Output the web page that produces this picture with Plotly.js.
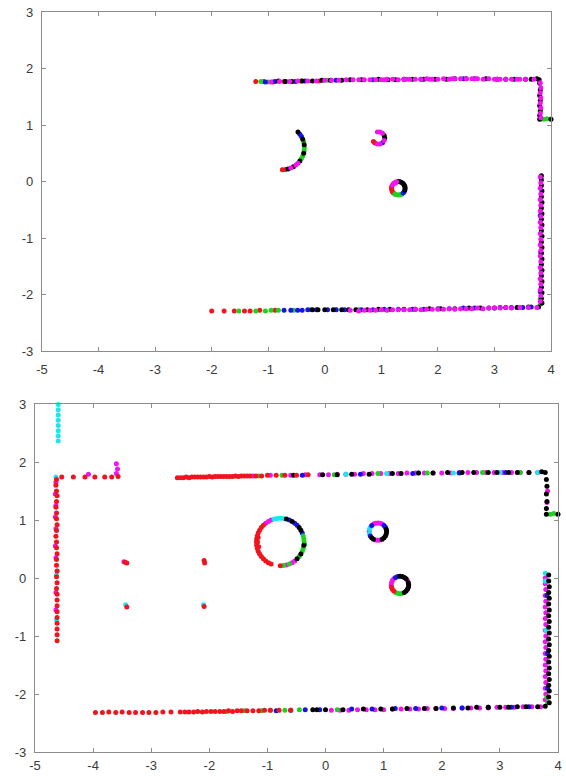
<!DOCTYPE html>
<html><head><meta charset="utf-8">
<script src="https://cdn.plot.ly/plotly-3.0.1.min.js"></script>
<style>html,body{margin:0;padding:0;background:#fff}#chart{width:566px;height:776px}</style>
</head><body><div id="chart"></div>
<script>
const xTickVals = [-5,-4,-3,-2,-1,0,1,2,3,4];
const xTickText = ['-5','-4','-3','-2','-1','0','1','2','3','4'];
const yTickVals = [-3,-2,-1,0,1,2,3];
const yTickText = ['-3','-2','-1','0','1','2','3'];

// ---- top panel scan points [x, y] ----
const topRed = [
 [-1.22,1.77],[-1.08,1.77],[-0.92,1.76],[-0.72,1.77],[-0.42,1.78],[-0.1,1.78],
 [-2.0,-2.29],[-1.78,-2.29],[-1.6,-2.29],[-1.42,-2.29],[-1.32,-2.29],[-1.15,-2.28],[-0.88,-2.28],
 [-0.75,0.21],[-0.699,0.213],
 [0.887,0.68],[0.86,0.707],
 [1.184,-0.089],[1.18,-0.12],[1.184,-0.151],[1.196,-0.18],[1.215,-0.205]
];
const topGreen = [
 [-1.13,1.77],[-1.0,1.76],[-0.68,1.77],[0.05,1.79],
 [3.87,1.1],[3.93,1.11],[3.82,-2.17],[3.81,-2.08],
 [-1.52,-2.29],[-1.22,-2.29],[-1.05,-2.29],[-0.95,-2.28],[-0.82,-2.28],[-0.55,-2.28],[-0.25,-2.27],[0.2,-2.27],[0.6,-2.27],
 [-0.373,0.701],[-0.36,0.60],[-0.364,0.549],[-0.39,0.451],[-0.412,0.405],
 [1.24,-0.224],[1.269,-0.236],[1.30,-0.24],[1.331,-0.236],[1.36,-0.224]
];
const topBlue = [
 [-1.05,1.76],[-0.88,1.77],[-0.52,1.77],[-0.35,1.78],[0.2,1.79],[0.85,1.8],[1.7,1.81],[2.45,1.82],
 [-0.72,-2.28],[-0.6,-2.28],[-0.48,-2.28],[-0.3,-2.27],[0.05,-2.27],[0.35,-2.27],[0.85,-2.27],[1.3,-2.26],[1.75,-2.26],[2.2,-2.25],[2.65,-2.24],[3.1,-2.23],[3.5,-2.23],
 [-0.4,-2.28],[-0.15,-2.27],[0.2,-2.27],[0.65,-2.27],[1.05,-2.26],[1.55,-2.26],[2.0,-2.25],[2.45,-2.24],[2.9,-2.24],[3.3,-2.23],[3.65,-2.22],
 [3.81,-0.6],[3.82,-1.25],[3.81,-1.95],
 [-0.441,0.837],[-0.412,0.795],
 [1.021,0.686],
 [1.404,-0.18],[1.385,-0.205]
];
const topMagenta = [
 [-0.95,1.76],[-0.8,1.77],[-0.62,1.77],[-0.48,1.78],[-0.3,1.78],[-0.15,1.78],[0.0,1.79],[0.12,1.79],[0.25,1.79],[0.38,1.8],[0.5,1.8],[0.6,1.8],[0.7,1.8],[0.8,1.8],[0.9,1.8],[1.0,1.8],[1.1,1.81],[1.2,1.81],[1.3,1.8],[1.4,1.81],[1.5,1.81],[1.6,1.81],[1.7,1.81],[1.8,1.82],[1.9,1.81],[2.0,1.81],[2.1,1.82],[2.2,1.81],[2.3,1.82],[2.4,1.82],[2.5,1.82],[2.6,1.82],[2.7,1.82],[2.8,1.81],[2.9,1.82],[3.0,1.81],[3.1,1.81],[3.2,1.81],[3.3,1.81],[3.4,1.81],[3.55,1.81],[3.7,1.81],
 [1.05,1.8],[1.45,1.81],[1.85,1.81],[2.25,1.82],[2.65,1.82],[3.05,1.81],[3.45,1.81],
 [3.81,1.75],[3.82,1.66],[3.81,1.57],[3.82,1.48],[3.81,1.39],[3.82,1.3],[3.81,1.21],[3.82,1.13],
 [3.81,0.08],[3.82,-0.02],[3.81,-0.12],[3.82,-0.22],[3.81,-0.32],[3.82,-0.42],[3.81,-0.52],[3.82,-0.62],[3.81,-0.72],[3.82,-0.82],[3.81,-0.92],[3.82,-1.02],[3.81,-1.12],[3.82,-1.22],[3.81,-1.32],[3.82,-1.42],[3.81,-1.52],[3.82,-1.62],[3.81,-1.72],[3.82,-1.82],[3.81,-1.92],[3.82,-2.02],[3.81,-2.12],
 [0.45,-2.28],[0.6,-2.29],[0.7,-2.28],[0.8,-2.28],[0.9,-2.28],[1.0,-2.27],[1.1,-2.28],[1.2,-2.27],[1.3,-2.27],[1.4,-2.27],[1.5,-2.27],[1.6,-2.26],[1.7,-2.27],[1.8,-2.26],[1.9,-2.26],[2.0,-2.26],[2.1,-2.26],[2.2,-2.25],[2.3,-2.26],[2.4,-2.25],[2.5,-2.25],[2.6,-2.25],[2.7,-2.24],[2.8,-2.25],[2.9,-2.24],[3.0,-2.24],[3.1,-2.24],[3.2,-2.23],[3.3,-2.24],[3.45,-2.23],[3.6,-2.23],[3.75,-2.23],
 [-0.474,0.324],[-0.513,0.291],[-0.601,0.24],
 [0.931,0.878],[0.978,0.876],[1.021,0.854],[1.05,0.724],[0.978,0.664],[0.931,0.662],
 [1.269,-0.004],[1.24,-0.016],[1.215,-0.035],[1.196,-0.06],[1.25,-0.03]
];
const topBlack = [
 [-0.82,1.78],[-0.7,1.77],[-0.58,1.77],[-0.4,1.78],[-0.22,1.78],[-0.05,1.79],[0.1,1.79],[0.3,1.79],[0.45,1.8],[0.65,1.8],[0.95,1.81],[1.25,1.8],[1.55,1.81],[1.95,1.81],[2.3,1.82],[2.65,1.82],[3.05,1.81],[3.35,1.81],[3.55,1.81],[3.75,1.82],
 [1.12,1.8],[1.4,1.81],[1.75,1.81],[2.15,1.81],[2.5,1.82],[2.85,1.82],[3.2,1.81],[3.65,1.81],
 [3.79,1.8],[3.8,1.74],[3.81,1.62],[3.8,1.52],[3.81,1.43],[3.8,1.34],[3.81,1.25],[3.8,1.17],[3.8,1.1],[4.0,1.1],
 [3.83,0.1],[3.83,0.03],[3.83,-0.07],[3.84,-0.17],[3.83,-0.27],[3.84,-0.37],[3.83,-0.47],[3.84,-0.57],[3.83,-0.67],[3.84,-0.77],[3.83,-0.87],[3.84,-0.97],[3.83,-1.07],[3.84,-1.17],[3.83,-1.27],[3.84,-1.37],[3.83,-1.47],[3.84,-1.57],[3.83,-1.67],[3.84,-1.77],[3.83,-1.87],[3.84,-1.97],[3.83,-2.07],[3.84,-2.15],
 [-0.22,-2.27],[-0.12,-2.27],[0.0,-2.27],[0.15,-2.27],[0.3,-2.27],[0.42,-2.27],[0.55,-2.27],[0.75,-2.27],[0.95,-2.26],[1.15,-2.26],[1.4,-2.26],[1.6,-2.26],[1.85,-2.25],[2.05,-2.25],[2.3,-2.25],[2.55,-2.24],[2.75,-2.24],[3.0,-2.24],[3.2,-2.23],[3.4,-2.23],[3.6,-2.22],[3.78,-2.22],
 [-0.474,0.876],[-0.39,0.749],[-0.364,0.651],[-0.373,0.499],[-0.441,0.363],[-0.555,0.262],[-0.649,0.223],
 [1.05,0.816],[1.06,0.77],
 [1.42,-0.12],[1.416,-0.089],[1.404,-0.06],[1.385,-0.035],[1.36,-0.016],[1.331,-0.004],[1.30,0.0],[1.416,-0.151]
];

// ---- bottom panel scan points [x, y] ----
const botMagenta = [
 [-4.64,1.65],[-4.65,1.45],[-4.64,1.25],[-4.65,1.05],[-4.64,0.85],[-4.65,0.55],[-4.64,0.35],[-4.64,-0.25],[-4.64,-0.55],
 [-3.6,1.97],[-3.58,1.88],[-3.6,1.8],[-4.08,1.79],
 [-1.25,1.76],[-0.95,1.77],[-0.6,1.77],[-0.35,1.78],
 [-0.1,1.78],[0.05,1.78],[0.2,1.79],[0.35,1.79],[0.5,1.79],[0.65,1.8],[0.8,1.8],[0.95,1.8],[1.1,1.8],[1.25,1.8],[1.4,1.81],[1.55,1.81],[1.7,1.81],[1.85,1.81],[2.0,1.81],[2.15,1.81],[2.3,1.82],[2.45,1.82],[2.6,1.82],[2.75,1.82],[2.9,1.82],[3.05,1.82],[3.2,1.82],[3.35,1.82],[3.5,1.82],[3.65,1.82],
 [3.82,1.5],[3.81,1.3],
 [3.78,0.0],[3.78,-0.1],[3.79,-0.2],[3.78,-0.3],[3.79,-0.4],[3.78,-0.5],[3.79,-0.6],[3.78,-0.7],[3.79,-0.8],[3.78,-0.9],[3.79,-1.0],[3.78,-1.1],[3.79,-1.2],[3.78,-1.3],[3.79,-1.4],[3.78,-1.5],[3.79,-1.6],[3.78,-1.7],[3.79,-1.8],[3.78,-1.9],[3.79,-2.0],[3.78,-2.1],
 [0.1,-2.28],[0.25,-2.28],[0.4,-2.28],[0.55,-2.27],[0.7,-2.27],[0.85,-2.27],[1.0,-2.27],[1.15,-2.26],[1.3,-2.26],[1.45,-2.26],[1.6,-2.26],[1.75,-2.25],[1.9,-2.25],[2.05,-2.25],[2.2,-2.25],[2.35,-2.24],[2.5,-2.24],[2.65,-2.24],[2.8,-2.24],[2.95,-2.23],[3.1,-2.23],[3.25,-2.23],[3.4,-2.22],[3.55,-2.22],[3.7,-2.22],
 [-3.47,0.28],
 [-0.937,0.999],[-0.985,0.975],[-1.03,0.945],[-0.674,0.224],[-0.575,0.265],[-0.53,0.295],
 [0.975,0.93],[0.939,0.945],[0.90,0.95],[0.861,0.945],[0.825,0.93],[0.75,0.80],[0.861,0.655],[0.90,0.65],[0.939,0.655],
 [1.41,-0.045],[1.174,-0.014],[1.15,-0.045],[1.135,-0.081],[1.13,-0.12]
];
const botCyan = [
 [-4.6,2.36],[-4.6,2.45],[-4.6,2.54],[-4.6,2.63],[-4.6,2.72],[-4.6,2.81],[-4.6,2.9],[-4.6,2.99],
 [-4.64,1.74],[-4.62,0.12],[-4.63,0.05],[-4.63,-0.72],
 [-3.44,-0.46],[-2.1,-0.46],
 [0.35,1.79],[1.05,1.8],[1.6,1.81],[2.2,1.81],[3.0,1.82],[3.65,1.82],
 [-0.726,1.026],[-0.78,1.03],[-0.834,1.026],[-0.886,1.016],
 [0.77,0.875],[0.755,0.839],[0.755,0.761],
 [3.78,0.08],[3.78,-0.05],[3.79,-0.9]
];
const botBlue = [
 [-0.4,1.77],[0.6,1.79],[1.5,1.8],[2.3,1.81],[3.1,1.82],
 [3.81,-0.3],[3.82,-1.3],[3.82,-1.9],
 [-0.85,-2.29],[-0.6,-2.28],[-0.35,-2.27],[0.45,-2.26],[1.2,-2.25],[2.0,-2.24],[2.8,-2.23],[3.5,-2.22],
 [-0.1,-2.27],[0.8,-2.26],[1.55,-2.25],[2.35,-2.24],[3.2,-2.23],
 [-0.401,0.777],[-0.49,0.91],[-0.53,0.945],[-0.623,0.999],
 [1.03,0.875],[1.006,0.906],[0.794,0.906],[0.77,0.725],
 [1.241,0.025],[1.205,0.01]
];
const botGreen = [
 [-1.15,1.76],[-0.75,1.77],[0.15,1.78],[0.9,1.8],[1.75,1.81],[2.7,1.82],[3.35,1.82],
 [3.87,1.1],[3.93,1.11],[3.82,-2.15],[3.81,-2.05],
 [-1.7,-2.3],[-1.4,-2.29],[-1.1,-2.29],[-0.95,-2.28],[-0.7,-2.28],[-0.45,-2.27],[0.2,-2.27],
 [-0.37,0.62],[-0.374,0.674],[-0.384,0.726],[-0.401,0.463],[-0.384,0.514],[-0.455,0.37],[-0.623,0.241],[-0.726,0.214],[-0.36,0.58],
 [1.205,-0.25],[1.241,-0.265],[1.28,-0.27],[1.319,-0.265]
];
const botBlack = [
 [-0.55,1.77],[-0.05,1.78],[0.45,1.79],[1.15,1.8],[1.85,1.81],[2.1,1.82],[2.55,1.82],[2.95,1.82],[3.3,1.82],[3.72,1.83],
 [0.2,1.78],[0.75,1.79],[1.3,1.8],[1.6,1.81],[2.35,1.82],[2.8,1.82],[3.15,1.82],[3.5,1.82],
 [3.78,1.82],[3.8,1.7],[3.81,1.58],[3.8,1.45],[3.81,1.32],[3.8,1.2],[3.8,1.1],[4.0,1.1],
 [3.84,0.05],[3.84,-0.05],[3.85,-0.15],[3.84,-0.25],[3.85,-0.35],[3.84,-0.45],[3.85,-0.55],[3.84,-0.65],[3.85,-0.75],[3.84,-0.85],[3.85,-0.95],[3.84,-1.05],[3.85,-1.15],[3.84,-1.25],[3.85,-1.35],[3.84,-1.45],[3.85,-1.55],[3.84,-1.65],[3.85,-1.75],[3.84,-1.85],[3.85,-1.95],[3.84,-2.05],[3.85,-2.15],
 [-0.22,-2.27],[-0.15,-2.27],[0.0,-2.27],[0.65,-2.26],[1.4,-2.25],[2.2,-2.24],[2.6,-2.23],[3.0,-2.23],[3.3,-2.22],[3.65,-2.22],[3.78,-2.21],
 [0.3,-2.27],[0.95,-2.26],[1.15,-2.26],[1.7,-2.25],[1.9,-2.25],[2.45,-2.24],[2.8,-2.23],[3.15,-2.23],[3.45,-2.22],
 [-0.425,0.825],[-0.455,0.87],[-0.575,0.975],[-0.674,1.016],[-0.49,0.33],[-0.425,0.415],[-0.374,0.566],
 [1.05,0.80],[1.045,0.839],[1.045,0.761],[1.03,0.725],[0.794,0.694],[0.825,0.67],[0.975,0.67],[1.006,0.694],
 [1.43,-0.12],[1.425,-0.081],[1.386,-0.014],[1.355,0.01],[1.319,0.025],[1.28,0.03],[1.355,-0.25],[1.386,-0.226],[1.41,-0.195],[1.425,-0.159]
];
const botRed = [
 [-4.63,1.7],[-4.64,1.6],[-4.63,1.5],[-4.62,1.42],[-4.63,1.32],[-4.64,1.22],[-4.63,1.12],[-4.63,1.02],[-4.62,0.92],[-4.63,0.82],[-4.64,0.72],[-4.63,0.62],[-4.63,0.52],[-4.62,0.42],[-4.63,0.32],[-4.63,0.22],[-4.62,0.12],[-4.63,0.02],[-4.62,-0.08],[-4.63,-0.18],[-4.62,-0.28],[-4.62,-0.38],[-4.62,-0.48],[-4.62,-0.58],[-4.62,-0.68],[-4.62,-0.78],[-4.62,-0.88],[-4.62,-0.98],[-4.62,-1.08],
 [-4.54,1.74],[-4.34,1.74],[-4.14,1.74],[-3.97,1.74],[-3.8,1.74],[-3.68,1.74],[-3.57,1.75],
 [-2.55,1.73],[-2.5,1.73],[-2.45,1.73],[-2.4,1.74],[-2.35,1.73],[-2.3,1.74],[-2.25,1.74],[-2.2,1.74],[-2.15,1.74],[-2.1,1.74],[-2.05,1.74],[-2.0,1.75],[-1.95,1.74],[-1.9,1.75],[-1.85,1.75],[-1.8,1.75],[-1.75,1.75],[-1.7,1.75],[-1.65,1.75],[-1.6,1.75],[-1.55,1.76],[-1.5,1.75],[-1.45,1.76],[-1.4,1.76],[-1.35,1.76],[-1.3,1.76],[-1.2,1.76],[-1.1,1.76],[-1.0,1.77],[-0.85,1.77],[-0.7,1.77],[-0.5,1.77],[-0.3,1.78],
 [-3.96,-2.32],[-3.84,-2.32],[-3.73,-2.31],[-3.61,-2.32],[-3.5,-2.31],[-3.38,-2.32],[-3.27,-2.32],[-3.15,-2.32],[-3.04,-2.32],[-2.92,-2.32],[-2.8,-2.31],[-2.66,-2.31],
 [-2.5,-2.31],[-2.42,-2.31],[-2.35,-2.31],[-2.27,-2.31],[-2.2,-2.3],[-2.12,-2.31],[-2.05,-2.3],[-1.97,-2.3],[-1.9,-2.3],[-1.82,-2.3],[-1.75,-2.3],[-1.67,-2.29],[-1.6,-2.3],[-1.52,-2.29],[-1.45,-2.29],[-1.35,-2.29],[-1.25,-2.29],[-1.15,-2.29],[-1.05,-2.28],[-0.95,-2.28],[-0.8,-2.28],[-0.6,-2.28],
 [-3.42,0.26],[-3.45,0.27],[-2.09,0.3],[-2.08,0.26],[-3.42,-0.5],[-2.09,-0.49],
 [-1.07,0.91],[-1.105,0.87],[-1.135,0.825],[-1.159,0.777],[-1.176,0.726],[-1.186,0.674],[-1.19,0.62],[-1.186,0.566],[-1.176,0.514],[-1.159,0.463],[-1.135,0.415],[-1.105,0.37],[-1.07,0.33],[-1.03,0.295],[-0.985,0.265],[-0.937,0.241],[-0.78,0.21],
 [-1.17,0.62],[-1.16,0.7],[-1.15,0.54],
 [1.135,-0.159],[1.15,-0.195],[1.174,-0.226]
];

const palette = {red:'#f0141e', green:'#1ed21e', blue:'#1414e6', black:'#000000', magenta:'#f014f0', cyan:'#1ee6f0'};

function mk(points, color, xa, ya) {
  return {
    type: 'scatter', mode: 'markers',
    x: points.map(p => p[0]), y: points.map(p => p[1]),
    xaxis: xa, yaxis: ya, cliponaxis: false,
    marker: {size: 5, color: color, line: {width: 0}},
    hoverinfo: 'skip', showlegend: false
  };
}

const data = [
  mk(topRed, palette.red, 'x', 'y'),
  mk(topGreen, palette.green, 'x', 'y'),
  mk(topBlue, palette.blue, 'x', 'y'),
  mk(topBlack, palette.black, 'x', 'y'),
  mk(topMagenta, palette.magenta, 'x', 'y'),
  mk(botMagenta, palette.magenta, 'x2', 'y2'),
  mk(botCyan, palette.cyan, 'x2', 'y2'),
  mk(botBlue, palette.blue, 'x2', 'y2'),
  mk(botGreen, palette.green, 'x2', 'y2'),
  mk(botBlack, palette.black, 'x2', 'y2'),
  mk(botRed, palette.red, 'x2', 'y2')
];

const tickFont = {family: '"Liberation Sans", Arial, sans-serif', size: 13, color: '#3a3a3a'};
function xax(domain, anchor, standoff) {
  return {domain: domain, anchor: anchor, range: [-5, 4], tickmode: 'array', tickvals: xTickVals, ticktext: xTickText,
    ticks: 'inside', ticklen: 4, tickwidth: 1, tickcolor: '#8c8c8c', showline: true, linecolor: '#8c8c8c', linewidth: 1.2,
    mirror: 'ticks', showgrid: false, zeroline: false, tickfont: tickFont, ticklabelstandoff: standoff, fixedrange: true};
}
function yax(domain, anchor) {
  return {domain: domain, anchor: anchor, range: [-3, 3], tickmode: 'array', tickvals: yTickVals, ticktext: yTickText,
    ticks: 'inside', ticklen: 4, tickwidth: 1, tickcolor: '#8c8c8c', showline: true, linecolor: '#8c8c8c', linewidth: 1.2,
    mirror: 'ticks', showgrid: false, zeroline: false, tickfont: tickFont, ticklabelstandoff: 5, fixedrange: true};
}

const layout = {
  width: 566, height: 776,
  margin: {l: 0, r: 0, t: 0, b: 0},
  paper_bgcolor: '#ffffff', plot_bgcolor: '#ffffff',
  showlegend: false,
  xaxis: xax([42/566, 551/566], 'y', 6),
  yaxis: yax([1 - 351/776, 1 - 12/776], 'x'),
  xaxis2: xax([35/566, 558/566], 'y2', 1),
  yaxis2: yax([1 - 752/776, 1 - 404/776], 'x2')
};

Plotly.newPlot('chart', data, layout, {displayModeBar: false, staticPlot: true});
</script>
</body></html>
